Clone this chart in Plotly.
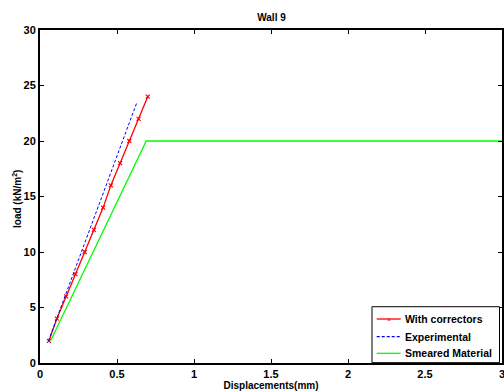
import plotly.graph_objects as go

# With correctors
corr_x = [0.058, 0.11, 0.17, 0.23, 0.29, 0.35, 0.41, 0.46, 0.52, 0.58, 0.64, 0.70]
corr_y = [2, 4, 6, 8, 10, 12, 14, 16, 18, 20, 22, 24]
# Experimental
exp_x = [0.055, 0.627]
exp_y = [2, 23.4]
# Smeared Material
sm_x = [0.069, 0.69, 3.0]
sm_y = [2, 20, 20]

x_ticks = [0, 0.5, 1, 1.5, 2, 2.5, 3]
x_labels = ["0", "0.5", "1", "1.5", "2", "2.5", "3"]
y_ticks = [0, 5, 10, 15, 20, 25, 30]

series_names = ["With correctors", "Experimental", "Smeared Material"]
series_colors = ["#ff0000", "#0000ff", "#00ff00"]
series_dash = ["solid", "3px,2px", "solid"]

FONT = "Liberation Sans, Arial, sans-serif"

fig = go.Figure()
fig.add_trace(go.Scatter(x=corr_x, y=corr_y, mode="lines+markers", name=series_names[0],
                         line=dict(color=series_colors[0], width=1.3),
                         marker=dict(symbol="x-thin", size=4, color=series_colors[0],
                                     line=dict(color=series_colors[0], width=1.2))))
fig.add_trace(go.Scatter(x=exp_x, y=exp_y, mode="lines", name=series_names[1],
                         line=dict(color=series_colors[1], width=1, dash=series_dash[1])))
fig.add_trace(go.Scatter(x=sm_x, y=sm_y, mode="lines", name=series_names[2],
                         line=dict(color=series_colors[2], width=1.3)))

axis_common = dict(showgrid=False, zeroline=False, showline=True, linecolor="black",
                   linewidth=2, mirror="ticks", ticks="inside", ticklen=4,
                   tickcolor="black", tickwidth=1, automargin=False,
                   ticklabeloverflow="allow",
                   tickfont=dict(family=FONT, size=11, color="black", weight="bold"))

# legend box drawn in plot-domain coordinates
lg_x0, lg_x1, lg_y0, lg_y1 = 0.7186, 0.9946, 0.001, 0.169
row_y = [0.1321, 0.079, 0.0291]
ln_x0, ln_x1, txt_x = 0.7288, 0.7807, 0.7864

shapes = [dict(type="rect", xref="x domain", yref="y domain", x0=lg_x0, x1=lg_x1,
               y0=lg_y0, y1=lg_y1, line=dict(color="black", width=1), fillcolor="white",
               layer="above")]
annotations = []
for name, col, dsh, yy in zip(series_names, series_colors, series_dash, row_y):
    shapes.append(dict(type="line", xref="x domain", yref="y domain", x0=ln_x0, x1=ln_x1,
                       y0=yy, y1=yy, line=dict(color=col, width=1.3, dash=dsh), layer="above"))
    annotations.append(dict(text=name, xref="x domain", yref="y domain", x=txt_x, y=yy,
                            xanchor="left", yanchor="middle", showarrow=False,
                            font=dict(family=FONT, size=10.5, color="black", weight="bold")))
annotations.append(dict(text="×", xref="x domain", yref="y domain", x=(ln_x0 + ln_x1) / 2,
                        y=row_y[0], xanchor="center", yanchor="middle", showarrow=False,
                        font=dict(family=FONT, size=7, color=series_colors[0])))
annotations.append(dict(text="load (kN/m<sup>2</sup>)", xref="paper", yref="paper",
                        x=-0.0498, y=0.4925, xanchor="center", yanchor="middle",
                        textangle=-90, showarrow=False,
                        font=dict(family=FONT, size=10, color="black", weight="bold")))

fig.update_layout(
    width=504, height=391,
    margin=dict(l=40, r=2, t=30, b=28),
    paper_bgcolor="white", plot_bgcolor="white",
    showlegend=False,
    title=dict(text="Wall 9", x=0.5387, xanchor="center", y=0.954, yanchor="middle",
               font=dict(family=FONT, size=10, color="black", weight="bold")),
    xaxis=dict(range=[0, 3], tickvals=x_ticks, ticktext=x_labels,
               title=dict(text="Displacements(mm)",
                          font=dict(family=FONT, size=10, color="black", weight="bold")),
               **axis_common),
    yaxis=dict(range=[0, 30], tickvals=y_ticks, **axis_common),
    shapes=shapes,
    annotations=annotations,
)

fig.write_html("out.html", config={"displayModeBar": False},
               post_script="document.body.style.margin='0';document.body.style.overflow='hidden';")
